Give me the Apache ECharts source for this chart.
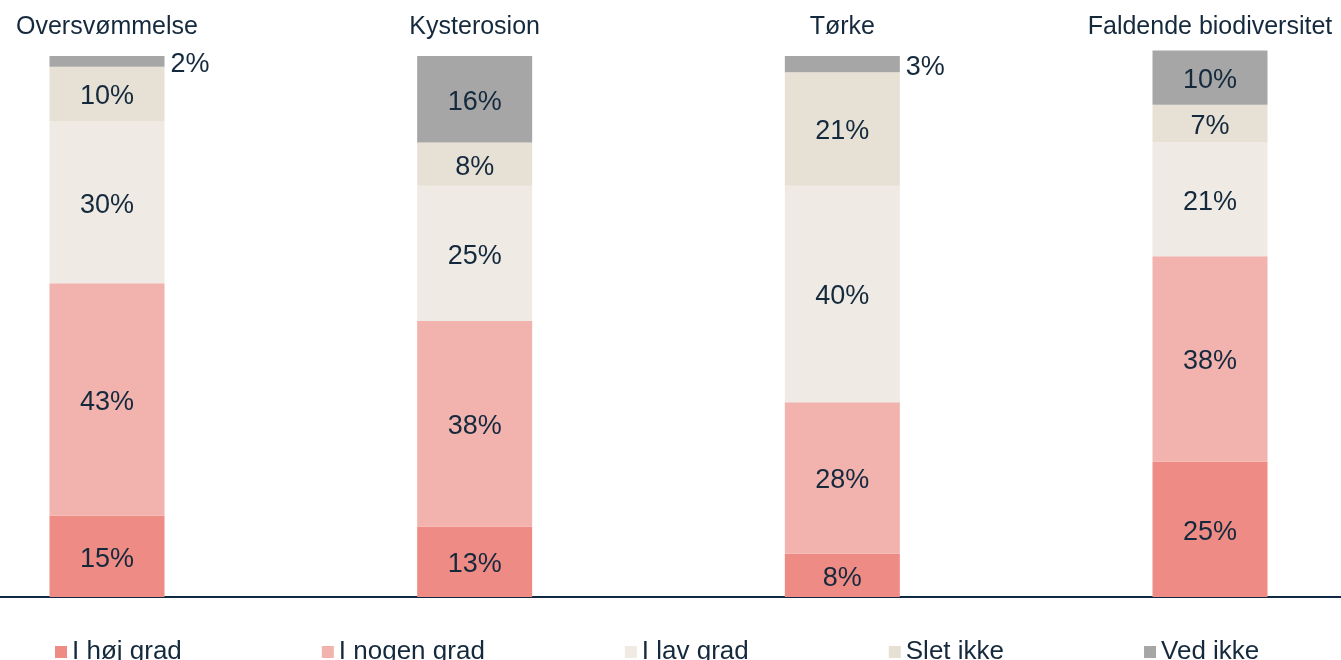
<!DOCTYPE html>
<html>
<head>
<meta charset="utf-8">
<script src="https://cdn.jsdelivr.net/npm/echarts@6/dist/echarts.min.js"></script>
<style>
  html, body { margin: 0; padding: 0; background: #fff; }
  #main { width: 1341px; height: 660px; }
</style>
</head>
<body>
<div id="main"></div>
<script>
var categories = ["Oversvømmelse", "Kysterosion", "Tørke", "Faldende biodiversitet"];
var seriesNames = ["I høj grad", "I nogen grad", "I lav grad", "Slet ikke", "Ved ikke"];
var hoejGrad = [15, 13, 8, 25];
var nogenGrad = [43, 38, 28, 38];
var lavGrad = [30, 25, 40, 21];
var sletIkke = [10, 8, 21, 7];
var vedIkke = [2, 16, 3, 10];

var values = [hoejGrad, nogenGrad, lavGrad, sletIkke, vedIkke];
var colors = ["#ED8B84", "#F2B2AE", "#EFEBE4", "#E7E0D5", "#A6A6A6"];
var textColor = "#15293d";
var font = "Liberation Sans, Arial, sans-serif";

var myChart = echarts.init(document.getElementById("main"));

var series = values.map(function (arr, i) {
  return {
    name: seriesNames[i],
    type: "bar",
    stack: "total",
    barWidth: 115,
    clip: false,
    itemStyle: { color: colors[i] },
    label: {
      show: true,
      position: "inside",
      offset: [0, 3],
      formatter: "{c}%",
      color: textColor,
      fontSize: 27,
      fontFamily: font
    },
    data: arr.map(function (v) {
      // small shares get their label beside the bar
      if (v < 5) {
        return { value: v, label: { position: "right", distance: 6 } };
      }
      return v;
    })
  };
});

var option = {
  animation: false,
  color: colors,
  grid: [
    { left: 107, right: 131, top: 56, bottom: 63 },
    // full-width grid only used for the baseline
    { left: 0, right: 0, top: 56, bottom: 63 }
  ],
  legend: {
    data: seriesNames,
    left: 50,
    top: 634,
    itemWidth: 12,
    itemHeight: 12,
    itemGap: 140,
    icon: "rect",
    textStyle: { color: textColor, fontSize: 26, fontFamily: font }
  },
  xAxis: [
    {
      type: "category",
      gridIndex: 0,
      data: categories,
      boundaryGap: false,
      position: "bottom",
      axisLine: { show: false },
      axisTick: { show: false },
      axisLabel: { show: false },
      splitLine: { show: false }
    },
    {
      type: "category",
      gridIndex: 0,
      data: categories,
      boundaryGap: false,
      position: "top",
      axisLine: { show: false },
      axisTick: { show: false },
      splitLine: { show: false },
      axisLabel: { color: textColor, fontSize: 25, fontFamily: font, margin: 16 }
    },
    {
      type: "value",
      gridIndex: 1,
      position: "bottom",
      axisLine: { show: true, lineStyle: { color: "#102a43", width: 2 } },
      axisTick: { show: false },
      axisLabel: { show: false },
      splitLine: { show: false }
    }
  ],
  yAxis: [
    { type: "value", gridIndex: 0, min: 0, max: 100, show: false },
    { type: "value", gridIndex: 1, show: false }
  ],
  series: series
};

myChart.setOption(option);
</script>
</body>
</html>
